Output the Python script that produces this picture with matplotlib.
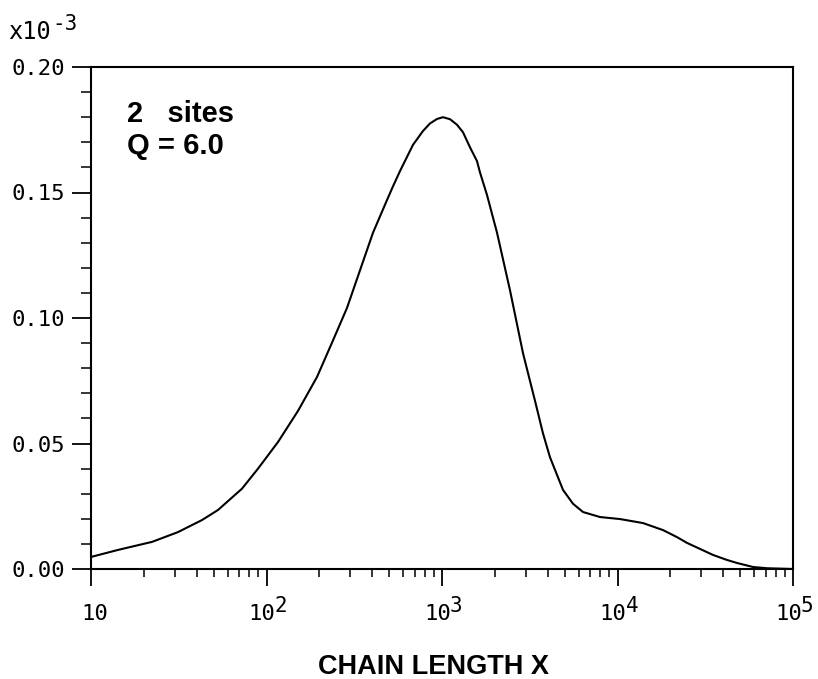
import matplotlib
matplotlib.use("Agg")
import matplotlib.pyplot as plt
from matplotlib.ticker import FixedLocator, FixedFormatter, LogLocator, MultipleLocator, NullFormatter

# ---- data ----
chain_length = [10, 14.25, 17.8, 22.27, 31.3, 42.9, 52.9, 72.5, 89.5, 116.3,
                151.2, 194, 239, 287.5, 341, 404.5, 486, 526, 576, 683.5,
                779, 854, 937, 1013, 1111, 1217, 1317, 1444, 1583, 1646,
                1805, 1927, 2058, 2441, 2894, 3388, 3763, 4125, 4522, 4893,
                5577, 6361, 7951, 10330, 13980, 18170, 21830, 24890, 29520,
                35010, 42060, 47970, 59160, 71100, 100000]
weight_fraction = [0.0048, 0.0076, 0.0092, 0.0108, 0.0147, 0.0195, 0.0235,
                   0.0320, 0.0400, 0.0506, 0.0630, 0.0765, 0.0910, 0.1040,
                   0.1190, 0.1340, 0.1470, 0.1525, 0.1585, 0.1690, 0.1745,
                   0.1775, 0.1793, 0.1800, 0.1792, 0.1770, 0.1740, 0.1680,
                   0.1625, 0.1580, 0.1490, 0.1415, 0.1340, 0.1110, 0.0860,
                   0.0670, 0.0540, 0.0445, 0.0375, 0.0315, 0.0260, 0.0227,
                   0.0207, 0.0199, 0.0183, 0.0155, 0.0127, 0.0104, 0.0080,
                   0.0056, 0.0036, 0.0024, 0.0008, 0.0003, 0.0]
y_ticks = [0.00, 0.05, 0.10, 0.15, 0.20]
y_tick_labels = ["0.00", "0.05", "0.10", "0.15", "0.20"]
x_ticks = [10, 100, 1000, 10000, 100000]
x_tick_bases = ["10", "10", "10", "10", "10"]
x_tick_exponents = ["", "2", "3", "4", "5"]
annotation_lines = ["2   sites", "Q = 6.0"]
x_label = "CHAIN LENGTH X"
y_scale_base = "x10"
y_scale_exponent = "-3"

MONO = "DejaVu Sans Mono"
W, H = 818, 679
PT = 72 / 100  # points per pixel
fig = plt.figure(figsize=(W / 100, H / 100), dpi=100)
ax = fig.add_axes([91 / W, 1 - 569 / H, (793 - 91) / W, (569 - 67) / H])

ax.plot(chain_length, weight_fraction, color="black", lw=1.5)
ax.set_xscale("log")
ax.set_xlim(10, 1e5)
ax.set_ylim(0, 0.20)

for s in ax.spines.values():
    s.set_linewidth(1.5)

# y axis ticks
ax.yaxis.set_major_locator(FixedLocator(y_ticks))
ax.yaxis.set_major_formatter(FixedFormatter(y_tick_labels))
ax.yaxis.set_minor_locator(MultipleLocator(0.01))
ax.tick_params(axis="y", which="major", direction="out", length=14, width=1.3, pad=5,
               labelsize=16)
ax.tick_params(axis="y", which="minor", direction="out", length=7, width=1.1)
for lab in ax.get_yticklabels():
    lab.set_fontfamily(MONO)

# x axis ticks (labels drawn as base + full-size exponent, like the original)
ax.xaxis.set_major_locator(FixedLocator(x_ticks))
ax.xaxis.set_major_formatter(NullFormatter())
ax.xaxis.set_minor_locator(LogLocator(base=10, subs=range(2, 10)))
ax.xaxis.set_minor_formatter(NullFormatter())
ax.tick_params(axis="x", which="major", direction="out", length=12, width=1.3)
ax.tick_params(axis="x", which="minor", direction="out", length=5.5, width=1.1)

xtrans = ax.get_xaxis_transform()
for xv, base, expo in zip(x_ticks, x_tick_bases, x_tick_exponents):
    if expo:
        ax.annotate(base, xy=(xv, 0), xycoords=xtrans, xytext=(9 * PT, -51 * PT),
                    textcoords="offset points", ha="right", va="baseline",
                    fontsize=16, family=MONO, annotation_clip=False)
        ax.annotate(expo, xy=(xv, 0), xycoords=xtrans, xytext=(8 * PT, -43 * PT),
                    textcoords="offset points", ha="left", va="baseline",
                    fontsize=15, family=MONO, annotation_clip=False)
    else:
        ax.annotate(base, xy=(xv, 0), xycoords=xtrans, xytext=(4 * PT, -51 * PT),
                    textcoords="offset points", ha="center", va="baseline",
                    fontsize=16, family=MONO, annotation_clip=False)

# annotation inside the plot
for i, line in enumerate(annotation_lines):
    ax.text((127 - 91) / 702, 1 - (122 + 32 * i - 67) / 502, line,
            transform=ax.transAxes, fontsize=21, fontweight="bold",
            family="Liberation Sans", va="baseline", ha="left")

# scale factor label
fig.text(8 / W, 1 - 39 / H, y_scale_base, fontsize=17, family=MONO,
         va="baseline", ha="left")
fig.text(52 / W, 1 - 30 / H, y_scale_exponent, fontsize=15, family=MONO,
         va="baseline", ha="left")

fig.text(434 / W, 1 - 667.5 / H, x_label, fontsize=19.5, fontweight="bold",
         family="Liberation Sans", ha="center", va="center")

fig.savefig("out.png", dpi=100)
